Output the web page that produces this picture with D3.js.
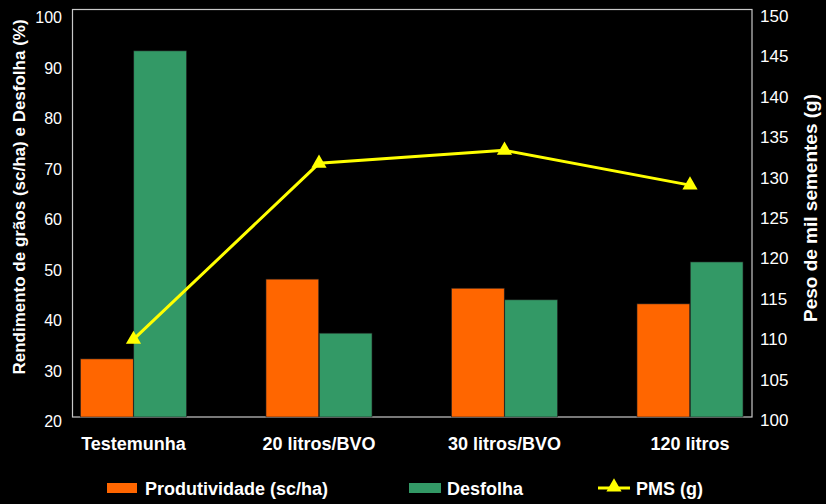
<!DOCTYPE html>
<html>
<head>
<meta charset="utf-8">
<script src="https://cdn.jsdelivr.net/npm/d3@7/dist/d3.min.js"></script>
<style>
  html, body { margin: 0; padding: 0; background: #000; }
  svg { display: block; }
  text { font-family: Arial, "Liberation Sans", Helvetica, sans-serif; fill: #fff; }
</style>
</head>
<body>
<svg id="chart" width="826" height="504"></svg>
<script>
const categories = ["Testemunha", "20 litros/BVO", "30 litros/BVO", "120 litros"];
const produtividade = [31.5, 47.3, 45.5, 42.4];
const desfolha = [92.5, 36.6, 43.2, 50.7];
const pms = [109.6, 131.4, 133.0, 128.7];
const leftTicks = [20, 30, 40, 50, 60, 70, 80, 90, 100];
const rightTicks = [100, 105, 110, 115, 120, 125, 130, 135, 140, 145, 150];
const seriesNames = ["Produtividade (sc/ha)", "Desfolha", "PMS (g)"];
const leftTitle = "Rendimento de grãos (sc/ha) e Desfolha (%)";
const rightTitle = "Peso de mil sementes (g)";

const colors = { prod: "#FF6600", desf: "#339966", pms: "#FFFF00" };

const svg = d3.select("#chart");
svg.append("rect").attr("width", 826).attr("height", 504).attr("fill", "#000");

const plot = { left: 72.5, right: 752, top: 9.5, bottom: 417 };

const x = d3.scalePoint().domain(categories).range([133.5, 690]);
const sub = d3.scaleBand().domain(["prod", "desf"]).range([-53, 53]).paddingInner(0.01);
const yL = d3.scaleLinear().domain([20, 100]).range([417, 13]);
const yR = d3.scaleLinear().domain([100, 150]).range([417, 13]);

// frame
svg.append("rect")
  .attr("x", plot.left).attr("y", plot.top)
  .attr("width", plot.right - plot.left).attr("height", plot.bottom - plot.top)
  .attr("fill", "none").attr("stroke", "#c8c8c8").attr("stroke-width", 1.2);

// bars
const groups = svg.append("g").selectAll("g").data(categories).join("g")
  .attr("transform", d => `translate(${x(d)},0)`);
groups.append("rect")
  .attr("x", sub("prod")).attr("width", sub.bandwidth())
  .attr("y", (d, i) => yL(produtividade[i]))
  .attr("height", (d, i) => yL(20) - yL(produtividade[i]))
  .attr("fill", colors.prod).attr("stroke", "#222").attr("stroke-width", 0.6);
groups.append("rect")
  .attr("x", sub("desf")).attr("width", sub.bandwidth())
  .attr("y", (d, i) => yL(desfolha[i]))
  .attr("height", (d, i) => yL(20) - yL(desfolha[i]))
  .attr("fill", colors.desf).attr("stroke", "#222").attr("stroke-width", 0.6);

// left axis
const axL = d3.axisLeft(yL).tickValues(leftTicks).tickSize(0).tickPadding(0);
const gL = svg.append("g").attr("transform", `translate(62,0)`).call(axL);
gL.select(".domain").remove();
gL.selectAll("text").attr("fill", "#fff").attr("font-size", 16).attr("dy", "0.62em")
  .style("font-family", "Arial, 'Liberation Sans', sans-serif");

// right axis
const axR = d3.axisRight(yR).tickValues(rightTicks).tickSize(0).tickPadding(0);
const gR = svg.append("g").attr("transform", `translate(760,0)`).call(axR);
gR.select(".domain").remove();
gR.selectAll("text").attr("fill", "#fff").attr("font-size", 17).attr("dy", "0.5em")
  .style("font-family", "Arial, 'Liberation Sans', sans-serif");

// category labels
svg.append("g").selectAll("text").data(categories).join("text")
  .attr("x", d => x(d)).attr("y", 450)
  .attr("text-anchor", "middle").attr("font-weight", "bold").attr("font-size", 18)
  .text(d => d);

// line
const line = d3.line().x((d, i) => x(categories[i])).y(d => yR(d));
svg.append("path").datum(pms).attr("d", line)
  .attr("fill", "none").attr("stroke", colors.pms).attr("stroke-width", 3);
const tri = d3.symbol().type(d3.symbolTriangle).size(100);
svg.append("g").selectAll("path").data(pms).join("path")
  .attr("d", tri)
  .attr("transform", (d, i) => `translate(${x(categories[i])},${yR(d)})`)
  .attr("fill", colors.pms);

// axis titles
svg.append("text")
  .attr("transform", "translate(25,197) rotate(-90)")
  .attr("text-anchor", "middle").attr("font-weight", "bold").attr("font-size", 17)
  .text(leftTitle);
svg.append("text")
  .attr("transform", "translate(817,208) rotate(-90)")
  .attr("text-anchor", "middle").attr("font-weight", "bold").attr("font-size", 19)
  .text(rightTitle);

// legend
const lg = svg.append("g");
lg.append("rect").attr("x", 107).attr("y", 483).attr("width", 30).attr("height", 10).attr("fill", colors.prod);
lg.append("text").attr("x", 145).attr("y", 495).attr("font-weight", "bold").attr("font-size", 18).text(seriesNames[0]);
lg.append("rect").attr("x", 409).attr("y", 483).attr("width", 32).attr("height", 10).attr("fill", colors.desf);
lg.append("text").attr("x", 447).attr("y", 495).attr("font-weight", "bold").attr("font-size", 18).text(seriesNames[1]);
lg.append("line").attr("x1", 598).attr("x2", 630).attr("y1", 488).attr("y2", 488)
  .attr("stroke", colors.pms).attr("stroke-width", 3);
lg.append("path").attr("d", tri).attr("transform", "translate(614,487)").attr("fill", colors.pms);
lg.append("text").attr("x", 636).attr("y", 495).attr("font-weight", "bold").attr("font-size", 18).text(seriesNames[2]);
</script>
</body>
</html>
